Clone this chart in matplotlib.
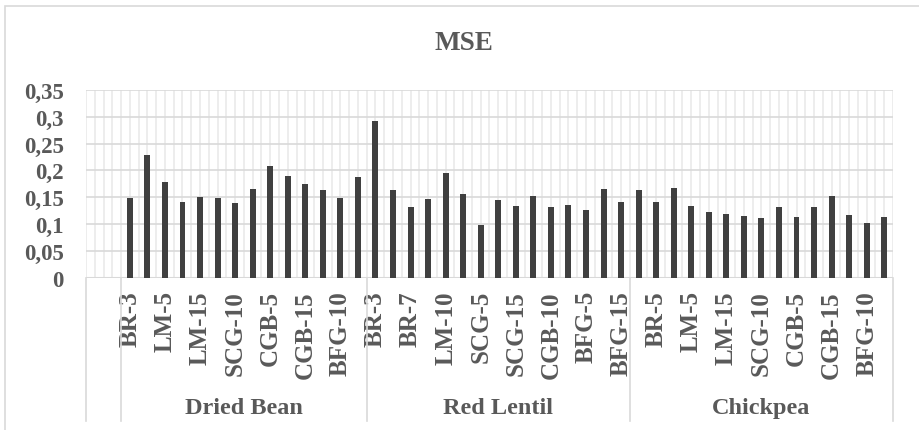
import matplotlib
matplotlib.use("Agg")
from matplotlib import pyplot as plt
from matplotlib.patches import Rectangle
from matplotlib.ticker import FuncFormatter
import matplotlib.transforms as mtransforms

groups = ["Dried Bean", "Red Lentil", "Chickpea"]
dried_bean_models = ["BR-3", "BR-5", "LM-5", "LM-10", "LM-15", "SCG-5", "SCG-10", "SCG-15",
                     "CGB-5", "CGB-10", "CGB-15", "BFG-5", "BFG-10", "BFG-15"]
models = ["BR-3", "BR-5", "BR-7", "LM-5", "LM-10", "LM-15", "SCG-5", "SCG-10", "SCG-15",
          "CGB-5", "CGB-10", "CGB-15", "BFG-5", "BFG-10", "BFG-15"]
dried_bean = [0.149, 0.228, 0.178, 0.142, 0.151, 0.149, 0.139, 0.165, 0.208, 0.190,
              0.175, 0.164, 0.149, 0.188]
red_lentil = [0.292, 0.164, 0.132, 0.147, 0.196, 0.157, 0.099, 0.145, 0.134, 0.152,
              0.131, 0.136, 0.126, 0.165, 0.142]
chickpea = [0.163, 0.142, 0.167, 0.134, 0.123, 0.118, 0.115, 0.111, 0.131, 0.113,
            0.131, 0.153, 0.117, 0.102, 0.114]
yticks = [0, 0.05, 0.1, 0.15, 0.2, 0.25, 0.3, 0.35]

TXT = "#595959"
plt.rcParams["font.family"] = ["Liberation Serif", "DejaVu Serif"]
plt.rcParams["font.weight"] = "bold"

# two empty slots in front, like the excel sheet
labels = ["", ""] + dried_bean_models + models + models
values = [0, 0] + dried_bean + red_lentil + chickpea
sizes = [2, len(dried_bean), len(red_lentil), len(chickpea)]
x = list(range(len(labels)))

fig = plt.figure(figsize=(9.2, 4.31), dpi=100)
fig.patches.append(Rectangle((5 / 920, -0.1), 1.2, 1.1 - 7 / 431, transform=fig.transFigure,
                             fill=False, edgecolor="#d9d9d9", linewidth=1.2))
ax = fig.add_axes([86 / 920, 1 - 278.7 / 431, 807 / 920, 187.7 / 431])

ax.bar(x, values, width=0.34, color="#404040", zorder=3)

n = len(labels)
ax.set_xlim(-0.5, n - 0.5)
ax.set_ylim(0, 0.35)
for k in range(2 * n + 1):
    ax.axvline(-0.5 + k * 0.5, color="#e8e8e8", linewidth=1.1, zorder=1)
ax.set_yticks(yticks)
ax.yaxis.set_major_formatter(FuncFormatter(lambda v, p: f"{v:g}".replace(".", ",")))
ax.grid(axis="y", color="#d9d9d9", linewidth=1.2, zorder=2)
ax.axhline(0, color="#d9d9d9", linewidth=1.5, zorder=2)
for s in ax.spines.values():
    s.set_visible(False)

ax.set_xticks(x[::2])
ax.set_xticklabels(labels[::2], rotation=90, fontsize=18, color=TXT, fontweight="bold")
ax.tick_params(axis="x", length=0, pad=9)
ax.tick_params(axis="y", length=0, labelsize=16.5, labelcolor=TXT, pad=16)

trans = mtransforms.blended_transform_factory(ax.transData, ax.transAxes)
edges = [-0.5]
for s in sizes:
    edges.append(edges[-1] + s)
for e in edges:
    ax.plot([e, e], [0, -0.763], transform=trans, color="#d9d9d9", linewidth=1.2, clip_on=False)
for g, (a, b) in zip(groups, zip(edges[1:-1], edges[2:])):
    ax.text((a + b) / 2, -0.689, g, transform=trans, ha="center", va="center",
            fontsize=17.5, color=TXT, fontweight="bold")

fig.text(0.504, 1 - 43 / 431, "MSE", ha="center", va="center", fontsize=19.5,
         color=TXT, fontweight="bold")

plt.savefig("out.png", dpi=100)
